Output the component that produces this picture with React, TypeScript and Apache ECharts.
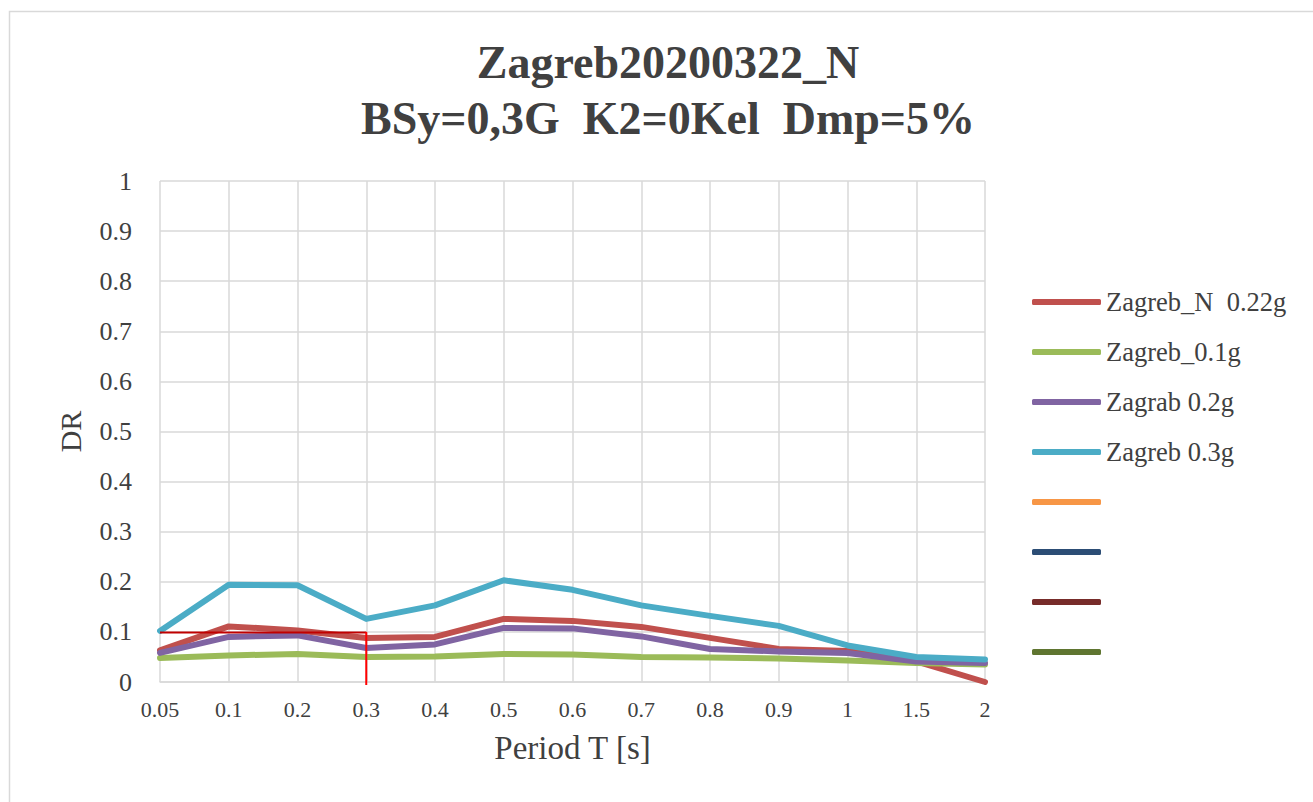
import React, { useEffect, useRef } from "react";
import * as echarts from "echarts";

const categories = ["0.05", "0.1", "0.2", "0.3", "0.4", "0.5", "0.6", "0.7", "0.8", "0.9", "1", "1.5", "2"];
const zagrebN022 = [0.063, 0.111, 0.103, 0.088, 0.09, 0.126, 0.122, 0.11, 0.088, 0.066, 0.062, 0.041, 0.0];
const zagreb01 = [0.048, 0.053, 0.056, 0.05, 0.051, 0.056, 0.055, 0.05, 0.049, 0.047, 0.043, 0.038, 0.035];
const zagrab02 = [0.058, 0.09, 0.093, 0.068, 0.075, 0.108, 0.107, 0.091, 0.066, 0.061, 0.058, 0.041, 0.038];
const zagreb03 = [0.102, 0.194, 0.193, 0.126, 0.153, 0.203, 0.184, 0.153, 0.132, 0.112, 0.073, 0.05, 0.045];
const seriesNames = ["Zagreb_N  0.22g", "Zagreb_0.1g", "Zagrab 0.2g", "Zagreb 0.3g", "s5", "s6", "s7", "s8"];
const legendLabels = ["Zagreb_N  0.22g", "Zagreb_0.1g", "Zagrab 0.2g", "Zagreb 0.3g", "", "", "", ""];
const seriesColors = ["#c0504d", "#9bbb59", "#8064a2", "#4bacc6", "#f79646", "#2c4d75", "#772c2a", "#5f7530"];
const refHorizontal = [[0, 0.099], [3, 0.099]];
const refVertical = [[3, 0.1], [3, -0.006]];
const titleText = "Zagreb20200322_N\nBSy=0,3G  K2=0Kel  Dmp=5%";

const FONT = "'Liberation Serif', 'Times New Roman', serif";
const TXT = "#404040";
const GRID = "#d9d9d9";

export default function App() {
  const ref = useRef<HTMLDivElement>(null);
  useEffect(() => {
    if (!ref.current) return;
    const chart = echarts.init(ref.current, null, { renderer: "svg" });
    const dataSets = [zagrebN022, zagreb01, zagrab02, zagreb03, [], [], [], []];
    const lineSeries = seriesNames.map((name, i) => ({
      name,
      type: "line",
      data: dataSets[i],
      symbol: "none",
      color: seriesColors[i],
      lineStyle: { width: 6, color: seriesColors[i], cap: "round", join: "round" },
      z: 2 + i,
    }));
    chart.setOption({
      animation: false,
      backgroundColor: "#ffffff",
      title: {
        text: titleText,
        left: 668,
        textAlign: "center",
        top: 34,
        padding: 0,
        textStyle: { fontFamily: FONT, fontSize: 46, fontWeight: "bold", color: TXT, lineHeight: 56 },
      },
      graphic: [
        {
          type: "rect",
          shape: { x: 9.5, y: 11.5, width: 1400, height: 900 },
          style: { fill: "none", stroke: GRID, lineWidth: 1.5 },
          silent: true,
          z: -10,
        },
      ],
      legend: {
        orient: "vertical",
        left: 1032,
        top: 287,
        padding: 0,
        data: seriesNames,
        icon: "roundRect",
        itemWidth: 69,
        itemHeight: 6,
        itemGap: 20,
        formatter: (name: string) => legendLabels[seriesNames.indexOf(name)],
        textStyle: { fontFamily: FONT, fontSize: 26.5, color: TXT, lineHeight: 30, height: 30 },
      },
      grid: { left: 160, top: 181, right: 328, bottom: 120, containLabel: false },
      xAxis: {
        type: "category",
        data: categories,
        boundaryGap: false,
        name: "Period T [s]",
        nameLocation: "middle",
        nameGap: 49,
        nameTextStyle: { fontFamily: FONT, fontSize: 33, color: TXT },
        axisTick: { show: false },
        axisLine: { lineStyle: { color: GRID, width: 1.5 } },
        axisLabel: { fontFamily: FONT, fontSize: 22, color: TXT, margin: 16 },
        splitLine: { show: true, lineStyle: { color: GRID, width: 1.5 } },
      },
      yAxis: {
        type: "value",
        min: 0,
        max: 1,
        interval: 0.1,
        name: "DR",
        nameLocation: "middle",
        nameGap: 75,
        nameTextStyle: { fontFamily: FONT, fontSize: 30, color: TXT },
        axisLine: { show: false },
        axisTick: { show: false },
        axisLabel: { fontFamily: FONT, fontSize: 26, color: TXT, margin: 28 },
        splitLine: { show: true, lineStyle: { color: GRID, width: 1.5 } },
      },
      series: [
        ...lineSeries,
        {
          name: "refH",
          type: "line",
          data: refHorizontal,
          symbol: "none",
          clip: false,
          lineStyle: { width: 2, color: "#c00000" },
          z: 20,
        },
        {
          name: "refV",
          type: "line",
          data: refVertical,
          symbol: "none",
          clip: false,
          lineStyle: { width: 2, color: "#ff0000" },
          z: 20,
        },
      ],
    });
    return () => chart.dispose();
  }, []);
  return (
    <div
      ref={ref}
      style={{ position: "fixed", left: 0, top: 0, width: 1313, height: 802, background: "#fff" }}
    />
  );
}
